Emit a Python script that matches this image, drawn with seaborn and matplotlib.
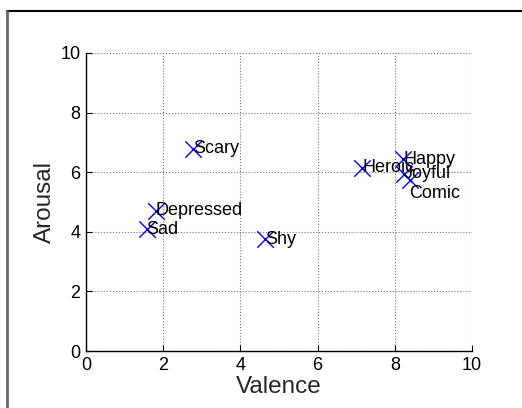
import matplotlib
matplotlib.use("Agg")
import matplotlib.pyplot as plt
import seaborn as sns
import pandas as pd
from matplotlib.lines import Line2D

# emotion words in valence/arousal space
words = ["Scary", "Depressed", "Sad", "Shy", "Heroic", "Happy", "Joyful", "Comic"]
valence = [2.78, 1.81, 1.57, 4.64, 7.16, 8.22, 8.24, 8.38]
arousal = [6.78, 4.70, 4.08, 3.75, 6.15, 6.43, 5.94, 5.74]
# label offsets in points (only Comic is pushed down)
label_dy = [0, 0, 0, 0, 0, 0, 0, -10]

df = pd.DataFrame({"word": words, "Valence": valence, "Arousal": arousal})

sns.set_style("white")
plt.rcParams["font.family"] = ["Liberation Sans", "DejaVu Sans"]

fig = plt.figure(figsize=(5.22, 4.08), dpi=100)
ax = fig.add_axes([0.1648, 0.1397, 0.7395, 0.7304])

sns.scatterplot(data=df, x="Valence", y="Arousal", marker="x", s=140,
                color="#0000ff", linewidth=1.0, ax=ax, zorder=3)

for w, x, y, dy in zip(words, valence, arousal, label_dy):
    ax.annotate(w, (x, y), xytext=(0, dy), textcoords="offset points",
                ha="left", va="center", fontsize=13, color="black")

ax.set_xlim(0, 10)
ax.set_ylim(0, 10)
ax.set_xticks(range(0, 11, 2))
ax.set_yticks(range(0, 11, 2))
ax.grid(True, linestyle=":", color="0.45", linewidth=0.8)
ax.set_axisbelow(True)
for s in ["top", "right"]:
    ax.spines[s].set_visible(False)
for s in ["left", "bottom"]:
    ax.spines[s].set_color("black")
    ax.spines[s].set_linewidth(1.0)
ax.tick_params(direction="in", length=4, width=0.8, labelsize=13,
               left=True, bottom=True, colors="black")
ax.tick_params(axis="x", pad=4)
ax.tick_params(axis="y", pad=4)
ax.set_xlabel("Valence", fontsize=17.5, labelpad=2)
ax.set_ylabel("Arousal", fontsize=17.5, labelpad=3)

# window frame as in the screenshot
fig.add_artist(Line2D([0.013, 1.0], [0.972, 0.972], transform=fig.transFigure,
                      color="black", linewidth=1.5))
fig.add_artist(Line2D([0.013, 0.013], [0.0, 0.972], transform=fig.transFigure,
                      color="0.4", linewidth=2.0))

fig.savefig("out.png", dpi=100)
